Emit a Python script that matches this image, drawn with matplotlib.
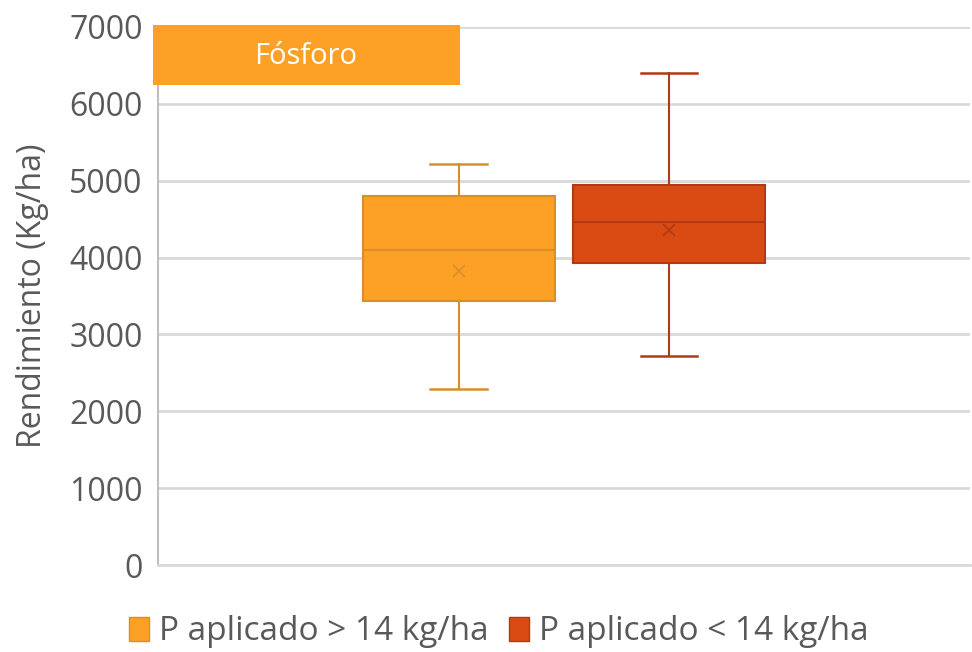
import matplotlib
matplotlib.use("Agg")
import matplotlib.pyplot as plt
from matplotlib.patches import Rectangle, Patch

plt.rcParams['font.family'] = ['Open Sans', 'DejaVu Sans']

# box statistics (Kg/ha)
series = ["P aplicado > 14 kg/ha", "P aplicado < 14 kg/ha"]
whislo = [2290, 2719]
q1 = [3436, 3930]
med = [4095, 4458]
mean = [3822, 4364]
q3 = [4805, 4939]
whishi = [5216, 6403]

face_colors = ["#FCA026", "#DA4B14"]
edge_colors = ["#D98E2B", "#B23A12"]
yticks = [0, 1000, 2000, 3000, 4000, 5000, 6000, 7000]
title = "Fósforo"
ylabel = "Rendimiento (Kg/ha)"

fig = plt.figure(figsize=(9.72, 6.52), dpi=100)
ax = fig.add_axes([0.1626, 0.1334, 0.835, 0.8252])

positions = [0.3705, 0.6295]
for i in range(len(series)):
    stats = [dict(whislo=whislo[i], q1=q1[i], med=med[i], mean=mean[i],
                  q3=q3[i], whishi=whishi[i], fliers=[])]
    ax.bxp(stats, positions=[positions[i]], widths=0.236, showmeans=True,
           patch_artist=True, manage_ticks=False, capwidths=0.07,
           boxprops=dict(facecolor=face_colors[i], edgecolor=edge_colors[i], linewidth=1.5),
           medianprops=dict(color=edge_colors[i], linewidth=1.5),
           whiskerprops=dict(color=edge_colors[i], linewidth=1.5),
           capprops=dict(color=edge_colors[i], linewidth=1.8),
           meanprops=dict(marker='x', markeredgecolor=edge_colors[i],
                          markersize=9, markeredgewidth=1.2))

ax.set_xlim(0, 1)
ax.set_ylim(0, 7000)
ax.set_yticks(yticks)
ax.set_xticks([])
ax.yaxis.grid(True, color="#D9D9D9", linewidth=2)
ax.set_axisbelow(True)
for side in ["top", "right"]:
    ax.spines[side].set_visible(False)
ax.spines["left"].set_color("#BFBFBF")
ax.spines["left"].set_linewidth(1.5)
ax.spines["bottom"].set_color("#D9D9D9")
ax.spines["bottom"].set_linewidth(2)
ax.tick_params(axis="y", length=0, labelsize=23, labelcolor="#595959", pad=11)
fig.text(33 / 972, 1 - 296 / 652, ylabel, rotation=90, fontsize=23,
         color="#595959", ha="center", va="center")

# title box in the top-left corner
fig.patches.append(Rectangle((153 / 972, 1 - 85 / 652), 307 / 972, 60 / 652,
                             transform=fig.transFigure, facecolor="#FCA026",
                             edgecolor="none", zorder=5))
fig.text(306 / 972, 1 - 56 / 652, title, color="white", fontsize=21,
         ha="center", va="center", zorder=6)

handles = [Patch(facecolor=face_colors[i], edgecolor=edge_colors[i], label=series[i])
           for i in range(len(series))]
fig.legend(handles=handles, loc="center", bbox_to_anchor=(0.513, 1 - 632 / 652),
           ncol=2, frameon=False, fontsize=24, labelcolor="#595959",
           handlelength=0.6, handleheight=0.75, handletextpad=0.3, columnspacing=0.6)

fig.savefig("out.png", dpi=100)
